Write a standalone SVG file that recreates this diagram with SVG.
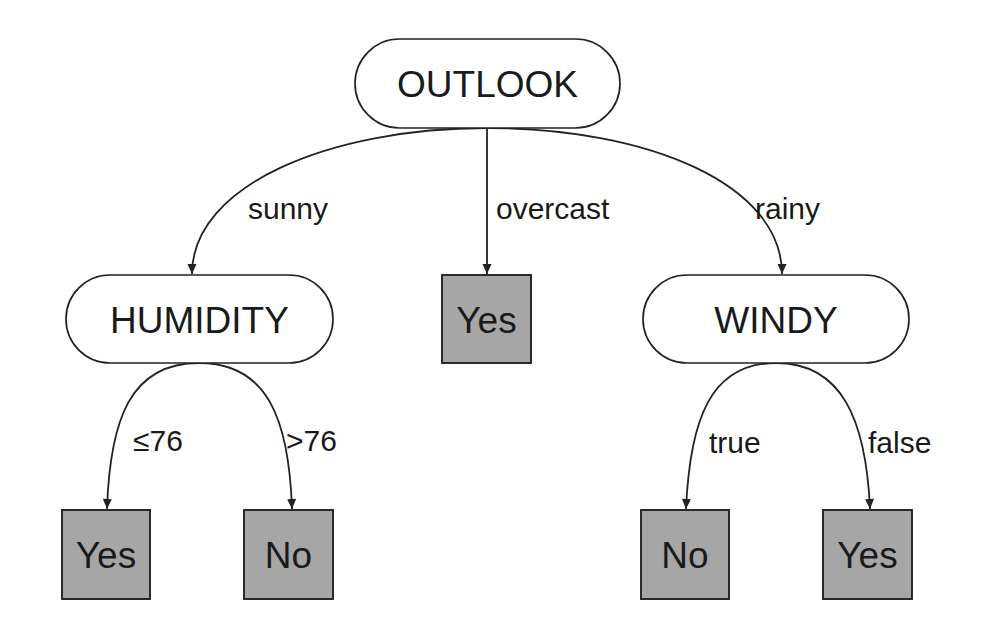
<svg xmlns="http://www.w3.org/2000/svg" width="998" height="644" viewBox="0 0 998 644">
<style>
.node{fill:#fff;stroke:#222;stroke-width:1.7}
.leaf{fill:#a6a6a6;stroke:#222;stroke-width:1.9}
.nt{font-family:"Liberation Sans",Arial,sans-serif;font-size:37px;fill:#1a1a1a;text-anchor:middle}
.lt{font-family:"Liberation Sans",Arial,sans-serif;font-size:30px;fill:#1a1a1a}
.edge{fill:none;stroke:#222;stroke-width:1.8;marker-end:url(#arr)}
</style>
<defs>
<marker id="arr" viewBox="0 0 10 10" refX="10" refY="5" markerWidth="13" markerHeight="10" markerUnits="userSpaceOnUse" orient="auto">
<path d="M0,0.5 L10,5 L0,9.5 Z" fill="#222"/>
</marker>
</defs>
<rect width="998" height="644" fill="#fff"/>
<g id="connectors">
<path class="edge" d="M487,128 C330,128 192,185 192,274"/>
<path class="edge" d="M487,128 L487,274"/>
<path class="edge" d="M487,128 C650,128 782,185 782,274"/>
<path class="edge" d="M199,363 C130,363 110,420 107,509"/>
<path class="edge" d="M199,363 C268,363 289,420 292,509"/>
<path class="edge" d="M776,363 C710,363 690,420 686,509"/>
<path class="edge" d="M776,363 C842,363 866,420 870,509"/>
<text class="lt" x="248" y="219">sunny</text>
<text class="lt" x="496" y="219">overcast</text>
<text class="lt" x="755" y="219">rainy</text>
<text class="lt" x="133" y="451">≤76</text>
<text class="lt" x="286" y="451">&gt;76</text>
<text class="lt" x="709" y="453">true</text>
<text class="lt" x="868" y="453">false</text>
</g>
<g id="outlook">
<rect class="node" x="355" y="39" width="265" height="89" rx="44.5"/>
<text class="nt" x="487.5" y="97">OUTLOOK</text>
</g>
<g id="humidity">
<rect class="node" x="66" y="275" width="267" height="88" rx="44"/>
<text class="nt" x="199.5" y="333">HUMIDITY</text>
</g>
<g id="yes-overcast">
<rect class="leaf" x="442" y="275" width="89" height="88"/>
<text class="nt" x="486.5" y="333">Yes</text>
</g>
<g id="windy">
<rect class="node" x="643" y="275" width="266" height="88" rx="44"/>
<text class="nt" x="776" y="333">WINDY</text>
</g>
<g id="yes-humidity">
<rect class="leaf" x="62" y="510" width="88" height="89"/>
<text class="nt" x="106" y="568">Yes</text>
</g>
<g id="no-humidity">
<rect class="leaf" x="244" y="510" width="89" height="89"/>
<text class="nt" x="288.5" y="568">No</text>
</g>
<g id="no-windy">
<rect class="leaf" x="641" y="510" width="88" height="89"/>
<text class="nt" x="685" y="568">No</text>
</g>
<g id="yes-windy">
<rect class="leaf" x="823" y="510" width="89" height="89"/>
<text class="nt" x="867.5" y="568">Yes</text>
</g>
</svg>
